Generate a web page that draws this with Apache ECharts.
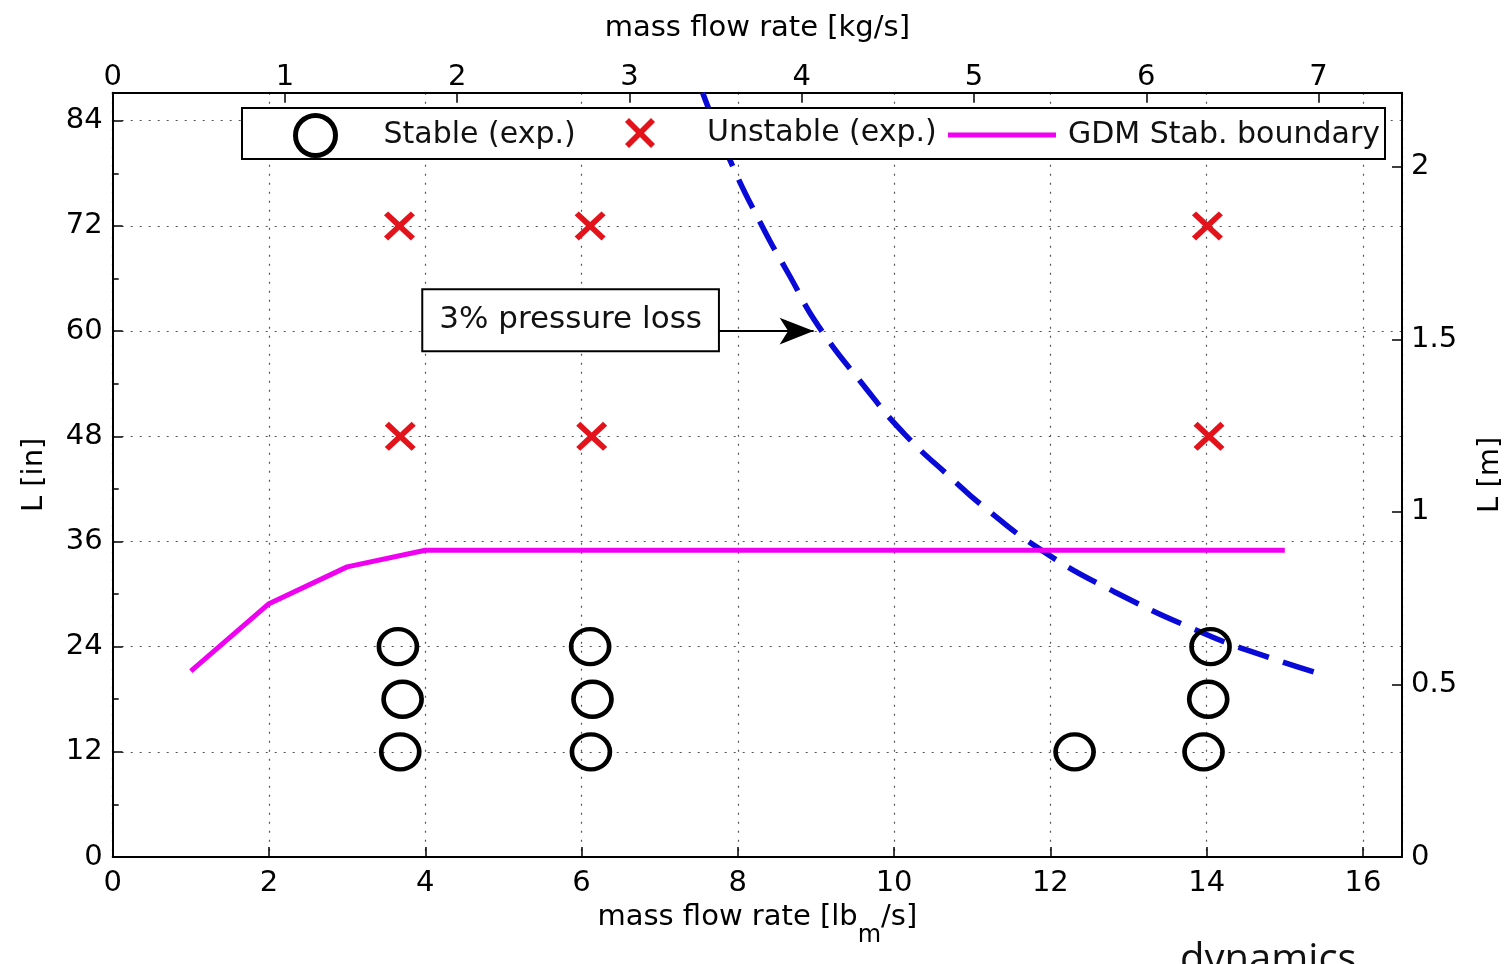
<!DOCTYPE html>
<html>
<head>
<meta charset="utf-8">
<script src="https://cdn.jsdelivr.net/npm/echarts@6/dist/echarts.min.js"></script>
<style>
html,body{margin:0;padding:0;background:#fff;overflow:hidden;}
#c{width:1508px;height:964px;}
</style>
</head>
<body>
<div id="c"></div>
<script>
// ---- data ----
const stableX = [3.65, 3.71, 3.68, 6.11, 6.14, 6.12, 12.31, 14.05, 14.02, 13.96];
const stableY = [24, 18, 12, 24, 18, 12, 12, 24, 18, 12];
const unstableX = [3.67, 6.11, 14.01, 3.68, 6.13, 14.03];
const unstableY = [72, 72, 72, 48, 48, 48];
const gdmX = [1.0, 2.0, 3.0, 4.0, 15.0];
const gdmY = [21.2, 28.9, 33.1, 35.0, 35.0];
const lossX = [7.55, 7.90, 8.31, 8.67, 9.03, 9.61, 10.14, 10.76, 11.10, 11.87, 12.81, 14.02, 14.72, 15.41];
const lossY = [87.2, 79.5, 72.0, 66.2, 60.6, 53.8, 48.2, 43.0, 40.3, 35.1, 30.3, 25.3, 23.0, 21.0];
const annotationText = '3% pressure loss';
const annotationBox = [5.86, 61.25];
const arrowFrom = [7.75, 60.0];
const arrowTo = [8.97, 60.0];

// axis ranges
const lbMax = 16.5;            // bottom axis [lbm/s]
const kgMax = lbMax / 2.20462; // top axis [kg/s]
const inMax = 87.2;            // left axis [in]
const mMax = inMax / 39.37;    // right axis [m]

const FONT = 'DejaVu Sans';
const ellipse = 'path://M0,20C0,8.95 8.95,0 20,0C31.05,0 40,8.95 40,20C40,31.05 31.05,40 20,40C8.95,40 0,31.05 0,20Z';
const cross = 'path://M0,4L4,0L15,11L26,0L30,4L19,15L30,26L26,30L15,19L4,30L0,26L11,15Z';

const zip = (xs, ys) => xs.map((x, i) => [x, ys[i]]);

const axisLine = {show: true, onZero: false, lineStyle: {color: '#000', width: 2}};
const tick = {show: true, inside: true, length: 10, lineStyle: {color: '#000', width: 1.5}};
const label = {color: '#000', fontSize: 29, fontFamily: FONT, showMaxLabel: false};
const grid = {show: true, lineStyle: {color: '#555', width: 1.2, type: [2, 7]}};

const chart = echarts.init(document.getElementById('c'));
chart.setOption({
  animation: false,
  backgroundColor: '#fff',
  textStyle: {fontFamily: FONT},
  grid: {left: 112.7, right: 106, top: 92.7, bottom: 107, containLabel: false, outerBoundsMode: 'none'},
  xAxis: [
    {
      type: 'value', position: 'bottom', min: 0, max: lbMax, interval: 2,
      name: 'mass flow rate [lb{sub|m}/s]', nameLocation: 'middle', nameGap: 30,
      nameTextStyle: {color: '#000', fontSize: 29, fontFamily: FONT,
        rich: {sub: {fontSize: 24, fontFamily: FONT, color: '#000', padding: [36, 0, 0, 0]}}},
      axisLine: axisLine, axisTick: tick,
      axisLabel: Object.assign({margin: 12}, label),
      splitLine: grid
    },
    {
      type: 'value', position: 'top', min: 0, max: kgMax, interval: 1,
      name: 'mass flow rate [kg/s]', nameLocation: 'middle', nameGap: 50,
      nameTextStyle: {color: '#000', fontSize: 29, fontFamily: FONT},
      axisLine: axisLine, axisTick: tick,
      axisLabel: Object.assign({margin: 1}, label),
      splitLine: {show: false}
    }
  ],
  yAxis: [
    {
      type: 'value', position: 'left', min: 0, max: inMax, interval: 12,
      name: 'L [in]', nameLocation: 'middle', nameGap: 64,
      nameTextStyle: {color: '#000', fontSize: 29, fontFamily: FONT},
      axisLine: axisLine, axisTick: tick,
      minorTick: {show: true, splitNumber: 2, length: 6, lineStyle: {color: '#000', width: 1.5}},
      axisLabel: Object.assign({margin: 10}, label),
      splitLine: grid
    },
    {
      type: 'value', position: 'right', min: 0, max: mMax, interval: 0.5,
      name: 'L [m]', nameLocation: 'middle', nameGap: 74,
      nameTextStyle: {color: '#000', fontSize: 29, fontFamily: FONT},
      axisLine: axisLine, axisTick: tick,
      axisLabel: Object.assign({margin: 9}, label),
      splitLine: {show: false}
    }
  ],
  legend: [
    {data: ['Stable (exp.)'], left: 293, top: 113, padding: 0, align: 'left', itemWidth: 46, itemHeight: 40,
     icon: ellipse, itemStyle: {color: 'rgba(0,0,0,0)', borderColor: '#000', borderWidth: 5},
     textStyle: {color: '#111', fontSize: 30, fontFamily: FONT, padding: [0, 0, 0, 40]}, selectedMode: false, z: 10},
    {data: ['Unstable (exp.)'], left: 625, top: 118, padding: 0, align: 'left', itemWidth: 32, itemHeight: 30,
     icon: cross, itemStyle: {color: '#e3131b', borderWidth: 0},
     textStyle: {color: '#111', fontSize: 30, fontFamily: FONT, padding: [0, 0, 0, 46]}, selectedMode: false, z: 10},
    {data: ['GDM Stab. boundary'], left: 948, top: 120, padding: 0, align: 'left', itemWidth: 108, itemHeight: 5,
     icon: 'rect', itemStyle: {color: '#f000f0', borderWidth: 0},
     textStyle: {color: '#111', fontSize: 30, fontFamily: FONT, padding: [0, 0, 0, 7]}, selectedMode: false, z: 10}
  ],
  graphic: [
    {type: 'rect', z: 5, shape: {x: 242, y: 108, width: 1143, height: 51},
     style: {fill: '#fff', stroke: '#000', lineWidth: 2}},
    {type: 'text', left: 1180, top: 941, z: 1, silent: true,
     style: {text: 'dynamics', fill: '#111', font: '40px "Open Sans"'}}
  ],
  series: [
    {
      name: '3% pressure loss', type: 'line', xAxisIndex: 0, yAxisIndex: 0,
      data: zip(lossX, lossY), smooth: 0.5, showSymbol: false, symbol: 'none',
      lineStyle: {color: '#0a0ad8', width: 5.5, type: [32, 15]}, z: 2, silent: true,
      markLine: {
        silent: true, symbol: ['none', 'arrow'], symbolSize: [20, 34],
        lineStyle: {color: '#000', width: 2, type: 'solid'}, label: {show: false},
        data: [[{coord: arrowFrom}, {coord: arrowTo}]]
      },
      markPoint: {
        silent: true, symbol: 'rect', symbolSize: 1,
        itemStyle: {color: 'rgba(0,0,0,0)'},
        label: {show: true, position: 'inside', formatter: annotationText, color: '#111', fontSize: 31, fontFamily: FONT,
          backgroundColor: '#fff', borderColor: '#000', borderWidth: 2, padding: [15, 16, 14, 16]},
        data: [{coord: annotationBox}]
      }
    },
    {
      name: 'GDM Stab. boundary', type: 'line', xAxisIndex: 0, yAxisIndex: 0,
      data: zip(gdmX, gdmY), showSymbol: false, symbol: 'none',
      lineStyle: {color: '#f000f0', width: 5}, z: 3, silent: true
    },
    {
      name: 'Stable (exp.)', type: 'scatter', xAxisIndex: 0, yAxisIndex: 0,
      data: zip(stableX, stableY), symbol: ellipse, symbolSize: [38, 35],
      itemStyle: {color: 'rgba(0,0,0,0)', borderColor: '#000', borderWidth: 4.5, opacity: 1}, z: 4, silent: true
    },
    {
      name: 'Unstable (exp.)', type: 'scatter', xAxisIndex: 0, yAxisIndex: 0,
      data: zip(unstableX, unstableY), symbol: cross, symbolSize: [31, 29],
      itemStyle: {color: '#e3131b', opacity: 1}, z: 4, silent: true
    }
  ]
});
</script>
</body>
</html>
